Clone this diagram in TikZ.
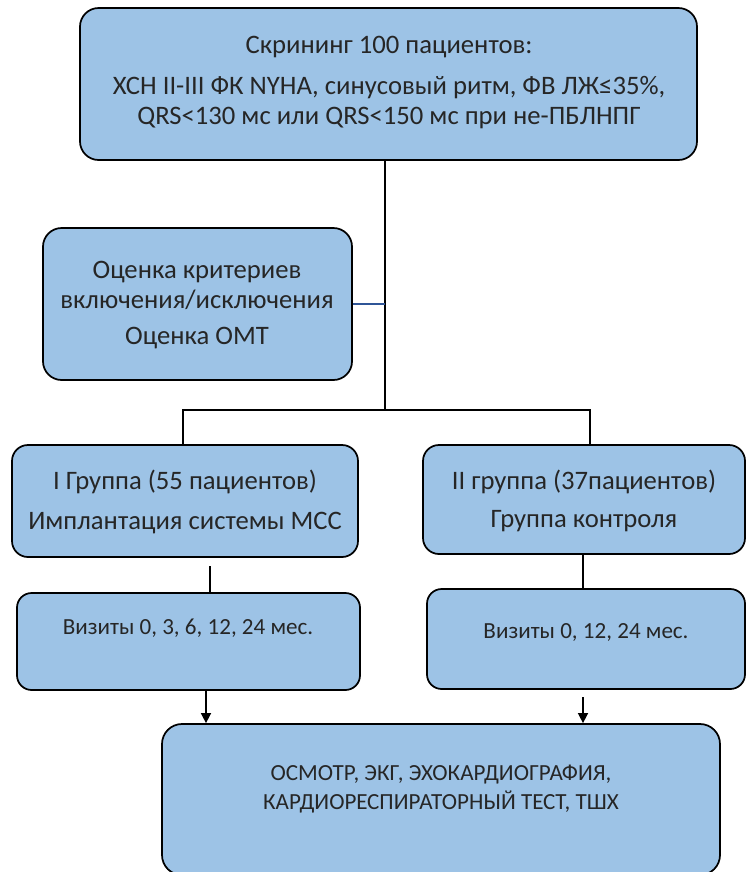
\documentclass[tikz,border=0pt]{standalone}
\usepackage{fontspec}
\setmainfont{Carlito}
\usetikzlibrary{fit,arrows.meta}
\definecolor{boxfill}{RGB}{157,195,230}
\definecolor{bluelink}{RGB}{47,85,151}
\begin{document}
\begin{tikzpicture}[x=0.75pt,y=-0.75pt,
  box/.style={draw=black, line width=1.3pt, fill=boxfill, rounded corners=14pt, inner sep=0pt},
  conn/.style={draw=black, line width=1.1pt},
  bconn/.style={draw=bluelink, line width=0.9pt},
  arr/.style={conn, -{Triangle[length=7.5pt,width=7.5pt]}},
  txt/.style={font=\fontsize{20pt}{22.5pt}\selectfont, align=center, inner sep=0pt, text=black!85},
  stxt/.style={font=\fontsize{17.3pt}{20pt}\selectfont, align=center, inner sep=0pt, text=black!85},
  mtxt/.style={font=\fontsize{17.3pt}{21.75pt}\selectfont, align=center, inner sep=0pt, text=black!85}]
\useasboundingbox (0,0) rectangle (747,872);
% boxes
\node[box, fit={(80,8) (697,160)}] (top) {};
\node[box, fit={(43,228) (352,380)}] (crit) {};
\node[box, rounded corners=12pt, fit={(12,445) (358,557)}] (g1) {};
\node[box, rounded corners=12pt, fit={(423,445) (745,554)}] (g2) {};
\node[box, rounded corners=11pt, fit={(17,593) (360,690)}] (v1) {};
\node[box, rounded corners=11pt, fit={(427,589) (745,689)}] (v2) {};
\node[box, rounded corners=15pt, fit={(162,724) (720,875)}] (fin) {};
% texts
\node[txt] (t1) at (389,47) {Скрининг 100 пациентов:};
\node[txt] (t2) at (389,103) {ХСН II-III ФК NYHA, синусовый ритм, ФВ ЛЖ≤35\%,\\QRS<130 мс или QRS<150 мс при не-ПБЛНПГ};
\node[txt] (c1) at (197,285.5) {Оценка критериев\\включения/исключения};
\node[txt] (c2) at (197,338) {Оценка ОМТ};
\node[txt] (g1a) at (185,482) {I Группа (55 пациентов)};
\node[txt] (g1b) at (185,523) {Имплантация системы МСС};
\node[txt] (g2a) at (584,482) {II группа (37пациентов)};
\node[txt] (g2b) at (584,521) {Группа контроля};
\node[stxt] (v1a) at (188,628) {Визиты 0, 3, 6, 12, 24 мес.};
\node[stxt] (v2a) at (586,632) {Визиты 0, 12, 24 мес.};
\node[mtxt] (f1) at (441,789.5) {ОСМОТР, ЭКГ, ЭХОКАРДИОГРАФИЯ,\\КАРДИОРЕСПИРАТОРНЫЙ ТЕСТ, ТШХ};
% connectors
\coordinate (j) at (385,410);
\coordinate (hl) at (183,410);
\coordinate (hr) at (590,410);
\draw[conn] (top.south -| j) -- (j);
\draw[bconn] (crit.east) -- (crit.east -| j);
\draw[conn] (hl |- g1.north) -- (hl) -- (hr) -- (hr |- g2.north);
\coordinate (l1) at (210,566);
\draw[conn] (l1) -- (l1 |- v1.north);
\coordinate (l2) at (583,554);
\draw[conn] (l2 |- g2.south) -- (l2 |- v2.north);
\coordinate (a1) at (206,690);
\draw[arr] (a1 |- v1.south) -- (a1 |- fin.north);
\coordinate (a2) at (583,697);
\draw[arr] (a2) -- (a2 |- fin.north);
\end{tikzpicture}
\end{document}
